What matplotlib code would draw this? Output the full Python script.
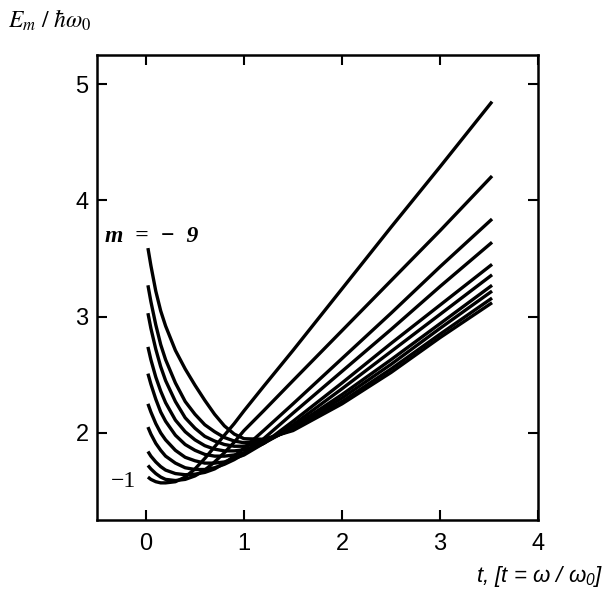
import matplotlib.pyplot as plt

plt.rcParams['mathtext.fontset'] = 'custom'
plt.rcParams['mathtext.rm'] = 'Liberation Sans:italic'
plt.rcParams['mathtext.it'] = 'Liberation Sans:italic'

# t = omega / omega_0
t = [0.02, 0.05, 0.1, 0.15, 0.2, 0.3, 0.4, 0.5, 0.6, 0.7, 0.8, 0.9, 1.0,
     1.2, 1.5, 2.0, 2.5, 3.0, 3.53]

# E_m / hbar omega_0, one list per m
e_m1 = [1.62, 1.60, 1.58, 1.57, 1.57, 1.58, 1.62, 1.69, 1.78, 1.88, 1.98, 2.08, 2.19,
        2.40, 2.71, 3.24, 3.77, 4.29, 4.85]
e_m2 = [1.72, 1.69, 1.65, 1.62, 1.60, 1.59, 1.60, 1.63, 1.68, 1.75, 1.83, 1.92, 2.02,
        2.19, 2.45, 2.88, 3.31, 3.74, 4.21]
e_m3 = [1.84, 1.80, 1.75, 1.71, 1.68, 1.65, 1.64, 1.645, 1.66, 1.69, 1.74, 1.80, 1.87,
        2.02, 2.25, 2.64, 3.03, 3.43, 3.84]
e_m4 = [2.05, 1.99, 1.91, 1.85, 1.80, 1.74, 1.70, 1.685, 1.685, 1.70, 1.73, 1.77, 1.82,
        1.95, 2.17, 2.53, 2.89, 3.26, 3.64]
e_m5 = [2.25, 2.18, 2.08, 2.00, 1.94, 1.85, 1.79, 1.76, 1.74, 1.74, 1.75, 1.78, 1.81,
        1.91, 2.10, 2.43, 2.77, 3.10, 3.45]
e_m6 = [2.51, 2.42, 2.29, 2.18, 2.10, 1.98, 1.90, 1.85, 1.815, 1.80, 1.80, 1.81, 1.83,
        1.91, 2.07, 2.38, 2.70, 3.02, 3.36]
e_m7 = [2.74, 2.63, 2.48, 2.36, 2.26, 2.11, 2.01, 1.94, 1.89, 1.86, 1.845, 1.845, 1.855,
        1.91, 2.05, 2.33, 2.63, 2.94, 3.27]
e_m8 = [3.03, 2.90, 2.72, 2.57, 2.45, 2.27, 2.13, 2.04, 1.97, 1.93, 1.90, 1.885, 1.885,
        1.92, 2.04, 2.30, 2.59, 2.90, 3.22]
e_m9 = [3.27, 3.13, 2.93, 2.76, 2.63, 2.43, 2.27, 2.16, 2.07, 2.01, 1.96, 1.93, 1.915,
        1.935, 2.03, 2.27, 2.55, 2.85, 3.16]
e_m10 = [3.59, 3.44, 3.22, 3.05, 2.92, 2.71, 2.55, 2.41, 2.28, 2.16, 2.06, 1.99, 1.95,
         1.945, 2.02, 2.25, 2.52, 2.82, 3.12]

xticks = [0, 1, 2, 3, 4]
yticks = [2, 3, 4, 5]

fig = plt.figure(figsize=(6.06, 5.93), dpi=100)
ax = fig.add_axes([0.160, 0.123, 0.728, 0.784])

for e in [e_m1, e_m2, e_m3, e_m4, e_m5, e_m6, e_m7, e_m8, e_m9, e_m10]:
    ax.plot(t, e, color='black', lw=2.4, solid_capstyle='butt')

ax.set_xlim(-0.5, 4)
ax.set_ylim(1.25, 5.25)
ax.set_xticks(xticks)
ax.set_yticks(yticks)
ax.tick_params(direction='in', length=7, width=1.5, top=True, right=True,
               labelsize=17)
ax.tick_params(axis='x', pad=9)
ax.tick_params(axis='y', pad=6)
for lab in ax.get_xticklabels() + ax.get_yticklabels():
    lab.set_family('Liberation Sans')
for s in ax.spines.values():
    s.set_linewidth(1.8)

ax.text(-0.42, 3.69, 'm  =  −  9', family='Liberation Serif', weight='bold',
        style='italic', fontsize=17, ha='left', va='center')
ax.text(-0.36, 1.58, '−1', family='Liberation Serif', fontsize=17,
        ha='left', va='center')

fig.text(0.013, 0.966, r'$E_m\ /\ \hbar\omega_0$', fontsize=17,
         math_fontfamily='stix', ha='left', va='center')
fig.text(0.995, 0.027, r'$t$, [$t$ = $\omega$ / $\omega_0$]', fontsize=16,
         family='Liberation Sans', style='italic', ha='right', va='center')

fig.savefig('out.png', dpi=100)
